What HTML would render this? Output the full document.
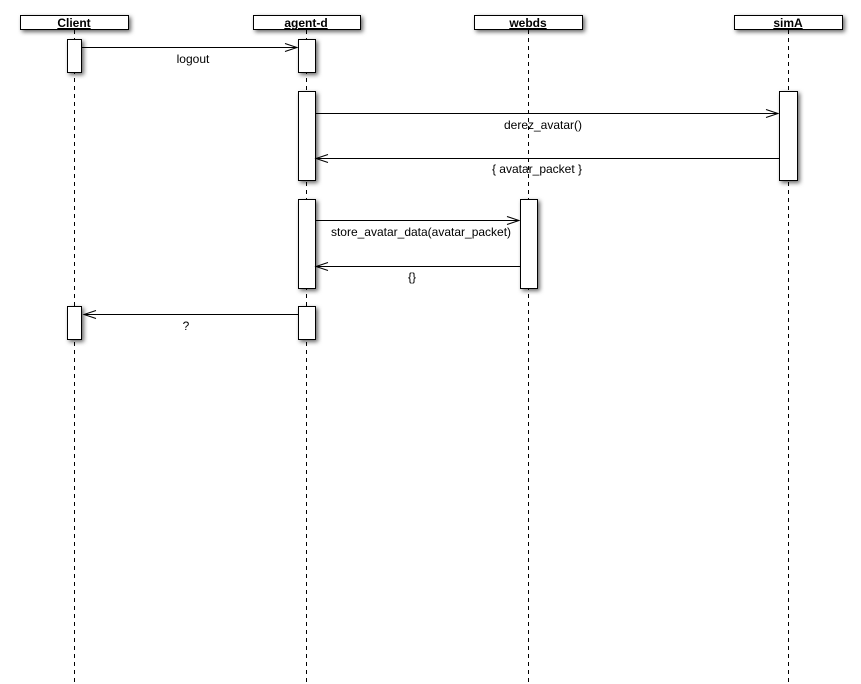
<!DOCTYPE html>
<html><head><style>body{margin:0;background:#fff}svg{display:block}</style></head><body>
<svg width="861" height="684" xmlns="http://www.w3.org/2000/svg" font-family="Liberation Sans, sans-serif">
<defs><filter id="s" x="-50%" y="-50%" width="200%" height="200%"><feDropShadow dx="2" dy="2" stdDeviation="2" flood-color="#000" flood-opacity="0.6"/></filter></defs>
<g stroke="#000" stroke-dasharray="4,4" stroke-width="1">
<line x1="74.5" y1="30" x2="74.5" y2="684"/><line x1="306.5" y1="30" x2="306.5" y2="684"/>
<line x1="528.5" y1="30" x2="528.5" y2="684"/><line x1="788.5" y1="30" x2="788.5" y2="684"/>
</g>
<g fill="#fff" stroke="#000" filter="url(#s)">
<rect x="20.5" y="15.5" width="108" height="14"/><rect x="253.5" y="15.5" width="107" height="14"/>
<rect x="474.5" y="15.5" width="108" height="14"/><rect x="734.5" y="15.5" width="108" height="14"/>
<rect x="67.5" y="39.5" width="14" height="33"/><rect x="298.5" y="39.5" width="17" height="33"/>
<rect x="298.5" y="91.5" width="17" height="89"/><rect x="779.5" y="91.5" width="18" height="89"/>
<rect x="298.5" y="199.5" width="17" height="89"/><rect x="520.5" y="199.5" width="17" height="89"/>
<rect x="67.5" y="306.5" width="14" height="33"/><rect x="298.5" y="306.5" width="17" height="33"/>
</g>
<g font-weight="bold" font-size="12" text-anchor="middle" text-decoration="underline">
<text x="74" y="27">Client</text><text x="306" y="27">agent-d</text><text x="528" y="27">webds</text><text x="788" y="27">simA</text>
</g>
<g stroke="#000" fill="none">
<line x1="81" y1="47.5" x2="297" y2="47.5"/><path d="M285 43.5L297 47.5L285 51.5"/>
<line x1="315" y1="113.5" x2="778" y2="113.5"/><path d="M766 109.5L778 113.5L766 117.5"/>
<line x1="316" y1="158.5" x2="779" y2="158.5"/><path d="M328 154.5L316 158.5L328 162.5"/>
<line x1="315" y1="220.5" x2="519" y2="220.5"/><path d="M507 216.5L519 220.5L507 224.5"/>
<line x1="316" y1="266.5" x2="520" y2="266.5"/><path d="M328 262.5L316 266.5L328 270.5"/>
<line x1="84" y1="314.5" x2="298" y2="314.5"/><path d="M96 310.5L84 314.5L96 318.5"/>
</g>
<g font-size="12" text-anchor="middle">
<text x="193" y="63">logout</text><text x="543" y="129">derez_avatar()</text>
<text x="537" y="173">{ avatar_packet }</text><text x="421" y="236">store_avatar_data(avatar_packet)</text>
<text x="412" y="281">{}</text><text x="186" y="330">?</text>
</g>
</svg>
</body></html>
